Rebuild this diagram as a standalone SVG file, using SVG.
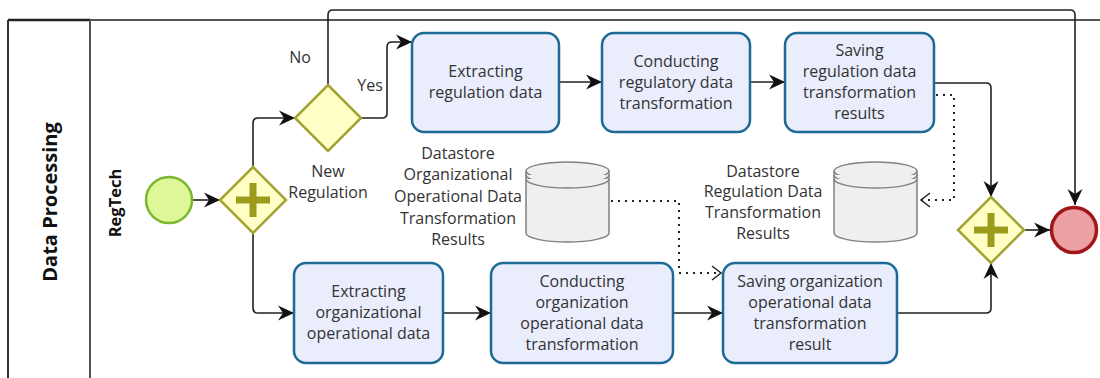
<svg xmlns="http://www.w3.org/2000/svg" width="1100" height="378" viewBox="0 0 1100 378">
  <style>
    text { font-family: "Open Sans", "Liberation Sans", sans-serif; font-size: 16px; fill: #333; text-anchor: middle; }
    .title { font-weight: bold; fill: #111; }
    .task { fill: #e9edfc; stroke: #1e6a96; stroke-width: 2.5; }
    .gw { fill: #ffffc6; stroke: #a3a331; stroke-width: 2.5; }
    .plus { fill: #9c9c1c; }
    .flow { fill: none; stroke: #222; stroke-width: 1.6; }
    .assoc { fill: none; stroke: #222; stroke-width: 2; stroke-dasharray: 2 5; }
    .store { fill: #efefef; stroke: #808080; stroke-width: 1.5; }
    .lane { fill: none; stroke: #555; stroke-width: 2; }
  </style>
  <defs>
    <marker id="arrow" markerUnits="userSpaceOnUse" markerWidth="18" markerHeight="18" viewBox="-17 -9 18 18" refX="0" refY="0" orient="auto">
      <path d="M0,0 L-16,-7.5 L-11,0 L-16,7.5 Z" fill="#111"/>
    </marker>
    <marker id="open" markerUnits="userSpaceOnUse" markerWidth="14" markerHeight="18" viewBox="-12 -9 14 18" refX="0" refY="0" orient="auto">
      <path d="M-9,-7 L0,0 L-9,7" fill="none" stroke="#222" stroke-width="1.5"/>
    </marker>
  </defs>

  <!-- pool and lane frame -->
  <g id="pool">
    <line x1="8" y1="20" x2="1100" y2="20" class="lane"/>
    <line x1="8" y1="20" x2="90" y2="20" stroke="#222" stroke-width="2.5"/>
    <line x1="8" y1="20" x2="8" y2="378" stroke="#333" stroke-width="2"/>
    <line x1="90" y1="20" x2="90" y2="378" class="lane"/>
    <text class="title" x="0" y="0" transform="translate(57,202) rotate(-90)" style="font-size:20px">Data Processing</text>
    <text class="title" x="0" y="0" transform="translate(121,203) rotate(-90)" style="font-size:16.5px">RegTech</text>
  </g>

  <!-- sequence flows and data associations -->
  <g id="connectors">
    <path class="flow" d="M193,200 H220" marker-end="url(#arrow)"/>
    <path class="flow" d="M253,167 V123 Q253,118 258,118 H295" marker-end="url(#arrow)"/>
    <path class="flow" d="M253,233 V308 Q253,313 258,313 H294" marker-end="url(#arrow)"/>
    <path class="flow" d="M361,118 H382 Q387,118 387,113 V47 Q387,42 392,42 H412" marker-end="url(#arrow)"/>
    <path class="flow" d="M328,85 V15 Q328,10 333,10 H1070 Q1075,10 1075,15 V205" marker-end="url(#arrow)"/>
    <path class="flow" d="M559,82 H602" marker-end="url(#arrow)"/>
    <path class="flow" d="M750,82 H785" marker-end="url(#arrow)"/>
    <path class="flow" d="M934,83 H986 Q991,83 991,88 V197" marker-end="url(#arrow)"/>
    <path class="flow" d="M443,313 H491" marker-end="url(#arrow)"/>
    <path class="flow" d="M673,313 H723" marker-end="url(#arrow)"/>
    <path class="flow" d="M897,313 H986 Q991,313 991,308 V263" marker-end="url(#arrow)"/>
    <path class="flow" d="M1025,230 H1050" marker-end="url(#arrow)"/>
    <path class="assoc" d="M936,95 H954 V200 H921" marker-end="url(#open)"/>
    <path class="assoc" d="M611,201 H679 V273 H721" marker-end="url(#open)"/>
    <text x="300" y="63">No</text>
    <text x="370" y="91">Yes</text>
  </g>

  <g id="start">
    <circle cx="169" cy="200" r="23" fill="#ddf799" stroke="#7db72f" stroke-width="2.5"/>
  </g>

  <g id="fork">
    <polygon class="gw" points="253,167 286,200 253,233 220,200"/>
    <rect class="plus" x="236" y="196.5" width="34" height="7"/>
    <rect class="plus" x="249.5" y="183" width="7" height="34"/>
  </g>

  <g id="new-regulation">
    <polygon class="gw" points="328,85 361,118 328,151 295,118"/>
    <text x="328" y="177">New</text>
    <text x="328" y="198">Regulation</text>
  </g>

  <g id="extract-regulation">
    <rect class="task" x="412" y="33" width="147" height="99" rx="12"/>
    <text x="485.5" y="77">Extracting</text>
    <text x="485.5" y="98">regulation data</text>
  </g>

  <g id="transform-regulation">
    <rect class="task" x="602" y="33" width="148" height="99" rx="12"/>
    <text x="676" y="67">Conducting</text>
    <text x="676" y="88">regulatory data</text>
    <text x="676" y="109">transformation</text>
  </g>

  <g id="save-regulation">
    <rect class="task" x="785" y="33" width="149" height="99" rx="12"/>
    <text x="859.5" y="56">Saving</text>
    <text x="859.5" y="77">regulation data</text>
    <text x="859.5" y="98">transformation</text>
    <text x="859.5" y="119">results</text>
  </g>

  <g id="extract-organization">
    <rect class="task" x="294" y="263" width="149" height="100" rx="12"/>
    <text x="368.5" y="297">Extracting</text>
    <text x="368.5" y="318">organizational</text>
    <text x="368.5" y="339">operational data</text>
  </g>

  <g id="transform-organization">
    <rect class="task" x="491" y="263" width="182" height="100" rx="12"/>
    <text x="582" y="287">Conducting</text>
    <text x="582" y="308">organization</text>
    <text x="582" y="329">operational data</text>
    <text x="582" y="350">transformation</text>
  </g>

  <g id="save-organization">
    <rect class="task" x="723" y="263" width="174" height="100" rx="12"/>
    <text x="810" y="287">Saving organization</text>
    <text x="810" y="308">operational data</text>
    <text x="810" y="329">transformation</text>
    <text x="810" y="350">result</text>
  </g>

  <g id="store-organization">
    <path class="store" d="M526,171 V233 A41.5,9 0 0 0 609,233 V171"/>
    <ellipse class="store" cx="567.5" cy="171" rx="41.5" ry="9"/>
    <path class="store" fill="none" d="M526,175 A41.5,9 0 0 0 609,175"/>
    <path class="store" fill="none" d="M526,179 A41.5,9 0 0 0 609,179"/>
    <text x="458" y="159">Datastore</text>
    <text x="458" y="180">Organizational</text>
    <text x="458" y="202">Operational Data</text>
    <text x="458" y="224">Transformation</text>
    <text x="458" y="245">Results</text>
  </g>

  <g id="store-regulation">
    <path class="store" d="M834,171 V233 A41.5,9 0 0 0 917,233 V171"/>
    <ellipse class="store" cx="875.5" cy="171" rx="41.5" ry="9"/>
    <path class="store" fill="none" d="M834,175 A41.5,9 0 0 0 917,175"/>
    <path class="store" fill="none" d="M834,179 A41.5,9 0 0 0 917,179"/>
    <text x="763" y="177">Datastore</text>
    <text x="763" y="197">Regulation Data</text>
    <text x="763" y="218">Transformation</text>
    <text x="763" y="239">Results</text>
  </g>

  <g id="join">
    <polygon class="gw" points="991,197 1024,230 991,263 958,230"/>
    <rect class="plus" x="974" y="226.5" width="34" height="7"/>
    <rect class="plus" x="987.5" y="213" width="7" height="34"/>
  </g>

  <g id="end">
    <circle cx="1074" cy="230" r="22.5" fill="#eda1a3" stroke="#a0171b" stroke-width="3.5"/>
  </g>
</svg>
